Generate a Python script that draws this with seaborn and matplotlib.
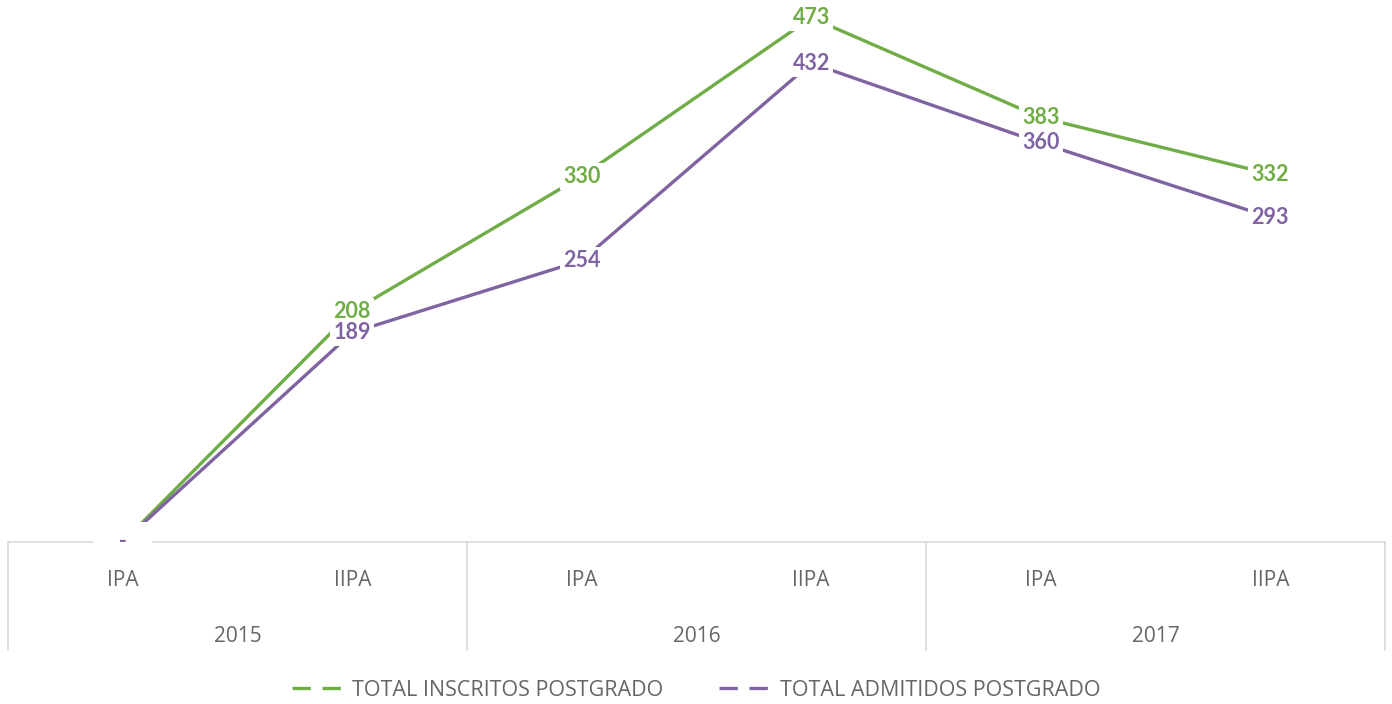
import pandas as pd
import numpy as np
import matplotlib
matplotlib.use('Agg')
import matplotlib.pyplot as plt
import seaborn as sns
from matplotlib.lines import Line2D

# ─── DATA ─────────────────────────────────────────────────────────────────────
YEARS     = ['2015', '2016', '2017']
PERIODS   = ['IPA', 'IIPA']
INSCRITOS = [0, 208, 330, 473, 383, 332]
ADMITIDOS = [0, 189, 254, 432, 360, 293]
SERIES    = ['TOTAL INSCRITOS POSTGRADO', 'TOTAL ADMITIDOS POSTGRADO']

GREEN  = '#70AD47'
PURPLE = '#8064A2'
GRAY   = '#666666'
GRID   = '#D9D9D9'

sns.set_style('white')
plt.rcParams['font.family'] = ['Open Sans', 'DejaVu Sans']

# long-form table for seaborn
n = len(YEARS) * len(PERIODS)
df = pd.DataFrame({
    'pos':   list(range(n)) * 2,
    'value': INSCRITOS + ADMITIDOS,
    'serie': [SERIES[0]] * n + [SERIES[1]] * n,
})

fig = plt.figure(figsize=(13.92, 7.04), dpi=100)
ax = fig.add_axes([8 / 1392, 1 - 542 / 704, 1377 / 1392, 542 / 704])

sns.lineplot(data=df, x='pos', y='value', hue='serie',
             palette=[GREEN, PURPLE], linewidth=2.4, ax=ax, legend=False)

ax.set_xlim(-0.5, n - 0.5)
ax.set_ylim(0, 489)

# data labels, centered on each point with a white box (zero shown as "-")
for vals, col in [(INSCRITOS, GREEN), (ADMITIDOS, PURPLE)]:
    for i, v in enumerate(vals):
        if v == 0:
            txt, pad = '   -   ', 0.45
        else:
            txt, pad = str(v), 0.15
        ax.text(i, v, txt, ha='center', va='center', fontsize=15.5,
                fontweight='bold', color=col, zorder=5, family='Lato',
                bbox=dict(boxstyle=f'square,pad={pad}', fc='white', ec='none'))

# axes styling
for s in ['top', 'left', 'right']:
    ax.spines[s].set_visible(False)
ax.spines['bottom'].set_color(GRID)
ax.spines['bottom'].set_linewidth(1.2)
ax.spines['bottom'].set_zorder(1)
ax.set_yticks([])
ax.set_xticks([])
ax.set_xlabel('')
ax.set_ylabel('')

# multi-level category axis
trans = ax.get_xaxis_transform()
for b in np.arange(-0.5, n, 2):
    ax.plot([b, b], [0, -108 / 542], color=GRID, lw=1.2,
            transform=trans, clip_on=False)
for i in range(n):
    ax.text(i, -39 / 542, PERIODS[i % 2], transform=trans, ha='center',
            va='center', fontsize=15, color=GRAY)
for j, y in enumerate(YEARS):
    ax.text(2 * j + 0.5, -94 / 542, y, transform=trans, ha='center',
            va='center', fontsize=15, color=GRAY)

handles = [Line2D([], [], color=GREEN, lw=2.4, dashes=(5.5, 3.5)),
           Line2D([], [], color=PURPLE, lw=2.4, dashes=(5.5, 3.5))]
fig.legend(handles, SERIES, loc='center', bbox_to_anchor=(0.5, 1 - 690 / 704),
           ncol=2, frameon=False, fontsize=15.5, handlelength=2.6,
           columnspacing=2.6, labelcolor=GRAY, handletextpad=0.2)

fig.savefig('out.png', dpi=100)
